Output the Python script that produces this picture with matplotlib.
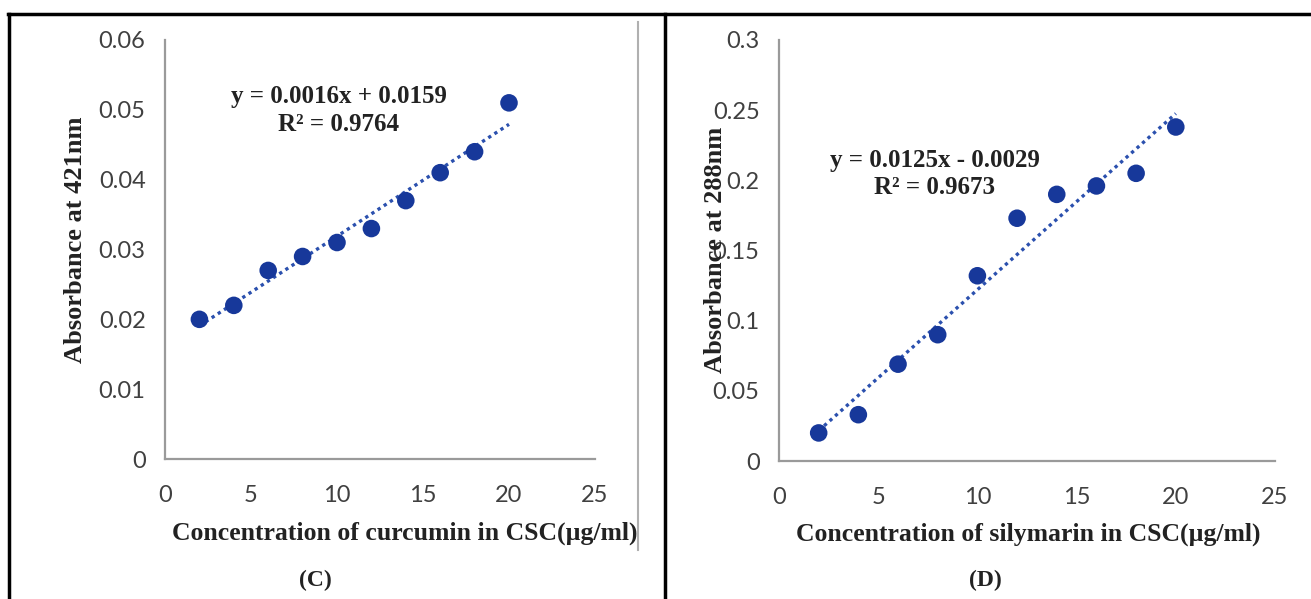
import matplotlib.pyplot as plt
import numpy as np
from matplotlib.lines import Line2D

# Calibration data
conc = [2, 4, 6, 8, 10, 12, 14, 16, 18, 20]
abs_curcumin = [0.020, 0.022, 0.027, 0.029, 0.031, 0.033, 0.037, 0.041, 0.044, 0.051]
abs_silymarin = [0.020, 0.033, 0.069, 0.090, 0.132, 0.173, 0.190, 0.196, 0.205, 0.238]

eq_curcumin = ["y = 0.0016x + 0.0159", "R² = 0.9764"]
eq_silymarin = ["y = 0.0125x - 0.0029", "R² = 0.9673"]

W, H = 1311, 599
fig = plt.figure(figsize=(W / 100, H / 100), dpi=100)

MARK = "#17389A"
TREND = "#2B50AE"
SERIF = "Liberation Serif"
TICKFONT = "Lato"


def px(x, y):
    return x / W, 1 - y / H


def panel(rect, x, y, ymax, ystep):
    ax = fig.add_axes(rect)
    ax.set_xlim(0, 25)
    ax.set_ylim(0, ymax)
    yt = np.arange(0, ymax + ystep / 2, ystep).round(3)
    ax.set_xticks(np.arange(0, 26, 5))
    ax.set_yticks(yt)
    ax.set_yticklabels([f"{v:g}" for v in yt])
    for s in ["top", "right"]:
        ax.spines[s].set_visible(False)
    for s in ["left", "bottom"]:
        ax.spines[s].set_color("#9a9a9a")
        ax.spines[s].set_linewidth(1.6)
    ax.tick_params(length=0, labelsize=17, colors="#404040")
    ax.tick_params(axis="x", pad=19)
    ax.tick_params(axis="y", pad=14)
    for lab in ax.get_xticklabels() + ax.get_yticklabels():
        lab.set_fontfamily(TICKFONT)
    ax.patch.set_alpha(0)

    # linear trendline
    k, b = np.polyfit(x, y, 1)
    xs = np.array([min(x), max(x)])
    ax.plot(xs, k * xs + b, linestyle=(0, (1, 1.2)), color=TREND, lw=2.4, zorder=2)
    ax.scatter(x, y, s=160, color=MARK, zorder=3, edgecolors="none", clip_on=False)
    return ax


axC = panel([165 / W, 1 - 459 / H, 430 / W, 419 / H], conc, abs_curcumin, 0.06, 0.01)
axD = panel([779 / W, 1 - 461 / H, 496 / W, 421 / H], conc, abs_silymarin, 0.3, 0.05)

tb = dict(family=SERIF, weight="bold", color="#222222")

# equations
fig.text(*px(339, 96), eq_curcumin[0], ha="center", va="center", fontsize=18, **tb)
fig.text(*px(339, 124), eq_curcumin[1], ha="center", va="center", fontsize=18, **tb)
fig.text(*px(935, 160), eq_silymarin[0], ha="center", va="center", fontsize=18, **tb)
fig.text(*px(935, 187), eq_silymarin[1], ha="center", va="center", fontsize=18, **tb)

# axis titles
fig.text(*px(405, 533), "Concentration of curcumin in CSC(µg/ml)", ha="center", va="center",
         fontsize=18.5, **tb)
fig.text(*px(1028, 534), "Concentration of silymarin in CSC(µg/ml)", ha="center", va="center",
         fontsize=18.5, **tb)
fig.text(*px(75, 240), "Absorbance at 421nm", ha="center", va="center", rotation=90,
         fontsize=19, **tb)
fig.text(*px(715, 250), "Absorbance at 288nm", ha="center", va="center", rotation=90,
         fontsize=19, **tb)

# panel labels
fig.text(*px(315, 580), "(C)", ha="center", va="center", fontsize=17, **tb)
fig.text(*px(985, 580), "(D)", ha="center", va="center", fontsize=17, **tb)

# frame around the panels
def seg(x0, y0, x1, y1, color="black", lw=2.5):
    p0, p1 = px(x0, y0), px(x1, y1)
    fig.add_artist(Line2D([p0[0], p1[0]], [p0[1], p1[1]], color=color, lw=lw,
                          transform=fig.transFigure))


seg(8, 14, W, 14)
seg(9, 14, 9, H)
seg(665, 14, 665, H)
seg(638, 22, 638, 550, color="#b0b0b0", lw=1.5)

fig.savefig("out.png", dpi=100)
